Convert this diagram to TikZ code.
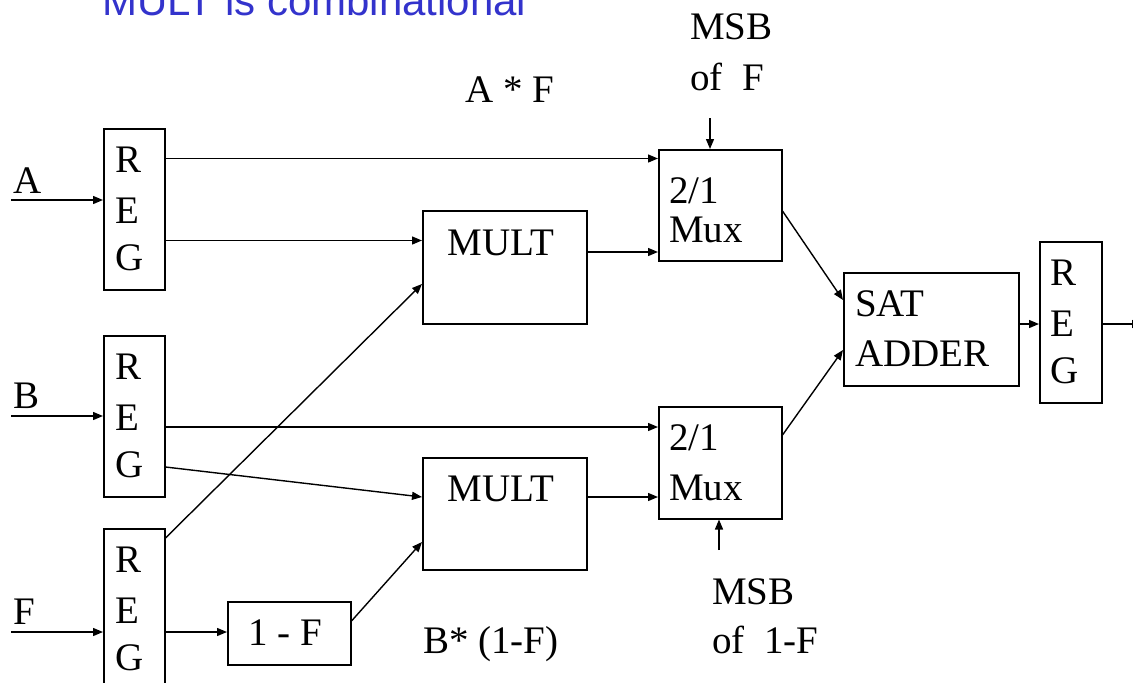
\documentclass[tikz,border=0pt]{standalone}
\usepackage{fontspec}
\setmainfont{Liberation Serif}
\newfontfamily\titlefont{Liberation Sans}
\usetikzlibrary{arrows.meta}
\definecolor{titleblue}{RGB}{51,51,204}

\tikzset{
  blk/.style={draw, line width=1.5pt, inner sep=0pt, anchor=north west},
  txt/.style={inner sep=0pt, font=\fontsize{39}{46}\selectfont},
  wire/.style={line width=1.4pt, -{Triangle[length=10pt,width=8pt]}},
}

\begin{document}
\begin{tikzpicture}[x=1pt, y=-1pt]
\useasboundingbox (0,0) rectangle (1133,683);

% title
\node[inner sep=0pt, anchor=base west, text=titleblue,
      font=\titlefont\fontsize{42}{50}\selectfont] (title) at (102,15.5) {MULT is combinational};

% blocks
\node[blk, minimum width=61, minimum height=161] (reg1) at (103,128) {};
\node[blk, minimum width=61, minimum height=161] (regB) at (103,335) {};
\node[blk, minimum width=61, minimum height=161] (regF) at (103,528) {};
\node[blk, minimum width=164, minimum height=113] (mult1) at (422,210) {};
\node[blk, minimum width=164, minimum height=112] (mult2) at (422,457) {};
\node[blk, minimum width=123, minimum height=111] (mux1) at (658,149) {};
\node[blk, minimum width=123, minimum height=112] (mux2) at (658,406) {};
\node[blk, minimum width=175, minimum height=113] (sat) at (843,272) {};
\node[blk, minimum width=62, minimum height=161] (regO) at (1039,241) {};
\node[blk, minimum width=123, minimum height=63] (onef) at (227,601) {};

% register lettering
\foreach \r/\x/\y in {reg1/115/128, regB/115/335, regF/115/528, regO/1050/241}{
  \node[txt, anchor=base west] (\r R) at (\x,\y+44) {R};
  \node[txt, anchor=base west] (\r E) at (\x,\y+95) {E};
  \node[txt, anchor=base west] (\r G) at (\x,\y+142) {G};
}

% block texts
\node[txt, anchor=base] (mult1t) at (501,255) {MULT};
\node[txt, anchor=base] (mult2t) at (501,501) {MULT};
\node[txt, anchor=base west] (mux1a) at (669,203) {2/1};
\node[txt, anchor=base west] (mux1b) at (669,242) {Mux};
\node[txt, anchor=base west] (mux2a) at (669,450) {2/1};
\node[txt, anchor=base west] (mux2b) at (669,500) {Mux};
\node[txt, anchor=base west] (sata) at (855,316) {SAT};
\node[txt, anchor=base west] (satb) at (855,366) {ADDER};
\node[txt, anchor=base] (onet) at (285,645) {1 - F};

% labels
\node[txt, anchor=base west] (labA) at (13,193) {A};
\node[txt, anchor=base west] (labB) at (13,408) {B};
\node[txt, anchor=base west] (labF) at (13,624) {F};
\node[txt, anchor=base west] (labAF) at (465,102) {A * F};
\node[txt, anchor=base west] (labBF) at (423,653) {B* (1-F)};
\node[txt, anchor=base west] (msbt1) at (690,39) {MSB};
\node[txt, anchor=base west] (msbt2) at (690,90) {of~~F};
\node[txt, anchor=base west] (msbb1) at (712,604) {MSB};
\node[txt, anchor=base west] (msbb2) at (712,653) {of~~1-F};

% free ends
\coordinate (inA) at (11,200);
\coordinate (inB) at (11,416);
\coordinate (inF) at (11,632);
\coordinate (selF) at (710,118);
\coordinate (sel1F) at (719,550);
\coordinate (out) at (1142,324);

% inputs
\draw[wire] (inA) -- ([yshift=-72pt]reg1.north west);
\draw[wire] (inB) -- ([yshift=-81pt]regB.north west);
\draw[wire] (inF) -- ([yshift=-104pt]regF.north west);

% A path
\draw[wire] ([yshift=-30.5pt]reg1.north east) -- ([yshift=-9.5pt]mux1.north west);
\draw[wire] ([yshift=-112.5pt]reg1.north east) -- ([yshift=-30.5pt]mult1.north west);
\draw[wire] ([yshift=-10pt]regF.north east) -- ([yshift=-74pt]mult1.north west);
\draw[wire] ([yshift=-42pt]mult1.north east) -- ([yshift=-103pt]mux1.north west);
\draw[wire] (selF) -- ([xshift=52pt]mux1.north west);
\draw[wire] ([yshift=-62pt]mux1.north east) -- ([yshift=-28pt]sat.north west);

% B path
\draw[wire] ([yshift=-92pt]regB.north east) -- ([yshift=-21pt]mux2.north west);
\draw[wire] ([yshift=-132pt]regB.north east) -- ([yshift=-40pt]mult2.north west);
\draw[wire] ([yshift=-104pt]regF.north east) -- ([yshift=-31pt]onef.north west);
\draw[wire] ([yshift=-20pt]onef.north east) -- ([yshift=-85pt]mult2.north west);
\draw[wire] ([yshift=-40pt]mult2.north east) -- ([yshift=-91pt]mux2.north west);
\draw[wire] (sel1F) -- ([xshift=61pt]mux2.south west);
\draw[wire] ([yshift=-29pt]mux2.north east) -- ([yshift=-78pt]sat.north west);

% output
\draw[wire] ([yshift=-52pt]sat.north east) -- ([yshift=-83pt]regO.north west);
\draw[wire] ([yshift=-83pt]regO.north east) -- (out);
\end{tikzpicture}
\end{document}
